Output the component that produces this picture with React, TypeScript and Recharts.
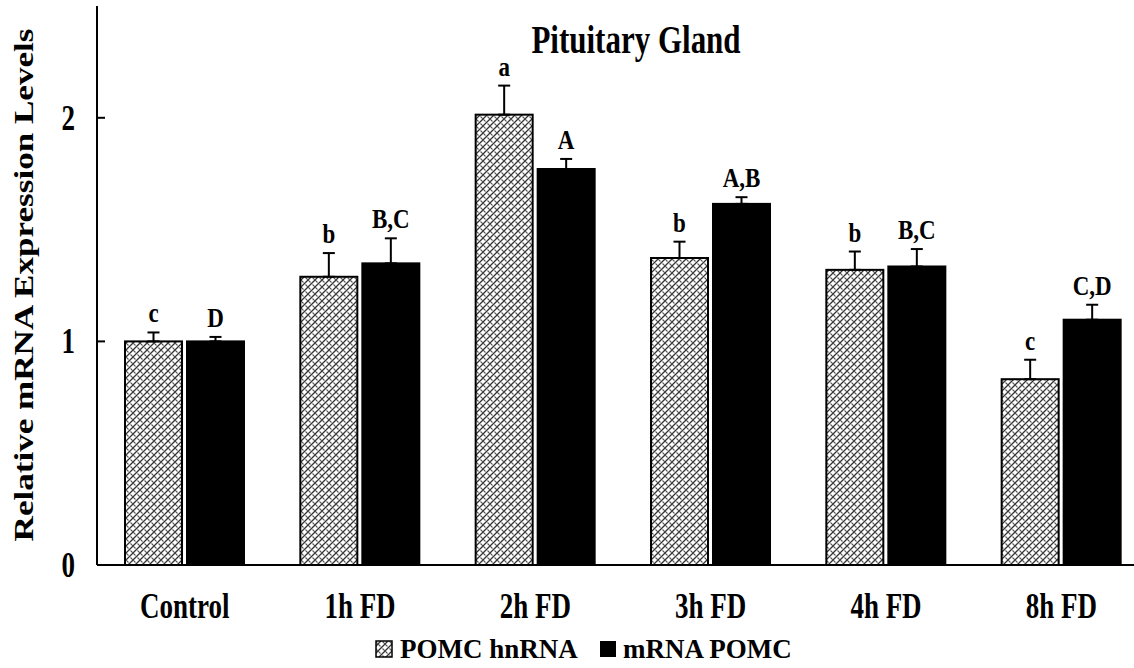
import React from 'react';
import { BarChart, Bar, XAxis, YAxis, ErrorBar } from 'recharts';

const groups = ['Control', '1h FD', '2h FD', '3h FD', '4h FD', '8h FD'];
const hnRNA = [1.0, 1.289, 2.014, 1.373, 1.32, 0.831];
const hnRNAErr = [0.04, 0.106, 0.13, 0.073, 0.082, 0.087];
const hnRNALetters = ['c', 'b', 'a', 'b', 'b', 'c'];
const mRNA = [1.0, 1.349, 1.771, 1.615, 1.335, 1.097];
const mRNAErr = [0.02, 0.112, 0.045, 0.03, 0.078, 0.067];
const mRNALetters = ['D', 'B,C', 'A', 'A,B', 'B,C', 'C,D'];
const yTicks = [0, 1, 2];

const FONT = '"Liberation Serif", "Times New Roman", serif';

const data = groups.map((name, i) => ({
  name,
  hn: hnRNA[i],
  hnErr: [0, hnRNAErr[i]],
  hnErrVal: hnRNAErr[i],
  hnLetter: hnRNALetters[i],
  m: mRNA[i],
  mErr: [0, mRNAErr[i]],
  mErrVal: mRNAErr[i],
  mLetter: mRNALetters[i],
}));

// bar + significance letter above its error bar
function makeShape(valKey: string, errKey: string, letterKey: string, fill: string) {
  return (props: any) => {
    const { x, y, width, height, payload } = props;
    const v = payload[valKey];
    const pxPerUnit = v > 0 ? height / v : 0;
    const topY = y - payload[errKey] * pxPerUnit;
    return (
      <g>
        <rect x={x} y={y} width={width} height={height} fill={fill} stroke="#000" strokeWidth={2} />
        <text
          transform={`translate(${x + width / 2},${topY - 10}) scale(1,1.2)`}
          textAnchor="middle"
          fontFamily={FONT}
          fontWeight="bold"
          fontSize={23}
          fill="#000"
        >
          {payload[letterKey]}
        </text>
      </g>
    );
  };
}

const YTick = (props: any) => {
  const { x, y, payload } = props;
  return (
    <g>
      <line x1={x} x2={x + 8} y1={y} y2={y} stroke="#000" strokeWidth={2} />
      <text
        transform={`translate(${x - 22},${y + 12}) scale(1,1.3)`}
        textAnchor="end"
        fontFamily={FONT}
        fontWeight="bold"
        fontSize={27}
        fill="#000"
      >
        {payload.value}
      </text>
    </g>
  );
};

const XTick = (props: any) => {
  const { x, y, payload } = props;
  return (
    <text
      transform={`translate(${x},${y + 53}) scale(1,1.3)`}
      textAnchor="middle"
      fontFamily={FONT}
      fontWeight="bold"
      fontSize={27}
      fill="#000"
    >
      {payload.value}
    </text>
  );
};

export default function App() {
  return (
    <div style={{ position: 'absolute', left: 0, top: 0, width: 1134, height: 668, overflow: 'hidden', background: '#fff' }}>
      <svg width={0} height={0} style={{ position: 'absolute' }}>
        <defs>
          <pattern id="hatch" width="7" height="7" patternUnits="userSpaceOnUse">
            <rect width="7" height="7" fill="#fff" />
            <path d="M0,7 L7,0 M-2,2 L2,-2 M5,9 L9,5" stroke="#333" strokeWidth={1.3} />
            <path d="M0,0 L2.5,2.5 M4.5,4.5 L7,7" stroke="#555" strokeWidth={1.1} />
          </pattern>
        </defs>
      </svg>
      <BarChart
        width={1149}
        height={668}
        data={data}
        margin={{ top: 6, right: 0, bottom: 0, left: 0 }}
        barSize={57}
        barGap={5}
      >
        <XAxis
          dataKey="name"
          height={103}
          axisLine={{ stroke: '#000', strokeWidth: 2 }}
          tickLine={false}
          tickSize={0}
          tickMargin={0}
          tick={<XTick />}
          interval={0}
        />
        <YAxis
          width={97}
          domain={[0, 2.5]}
          ticks={yTicks}
          axisLine={{ stroke: '#000', strokeWidth: 2 }}
          tickLine={false}
          tickSize={0}
          tickMargin={0}
          tick={<YTick />}
        />
        <Bar dataKey="hn" isAnimationActive={false} shape={makeShape('hn', 'hnErrVal', 'hnLetter', 'url(#hatch)')}>
          <ErrorBar dataKey="hnErr" width={6} stroke="#000" strokeWidth={2} direction="y" />
        </Bar>
        <Bar dataKey="m" isAnimationActive={false} shape={makeShape('m', 'mErrVal', 'mLetter', '#000')}>
          <ErrorBar dataKey="mErr" width={6} stroke="#000" strokeWidth={2} direction="y" />
        </Bar>
      </BarChart>
      <svg width={1134} height={668} style={{ position: 'absolute', left: 0, top: 0, pointerEvents: 'none' }}>
        <text
          transform="translate(636,53) scale(1,1.3)"
          textAnchor="middle"
          fontFamily={FONT}
          fontWeight="bold"
          fontSize={31}
          fill="#000"
        >
          Pituitary Gland
        </text>
        <text
          transform="translate(33,285) rotate(-90) scale(1.3,1)"
          textAnchor="middle"
          fontFamily={FONT}
          fontWeight="bold"
          fontSize={27}
          fill="#000"
        >
          Relative mRNA Expression Levels
        </text>
        <rect x={376} y={641} width={16} height={16} fill="url(#hatch)" stroke="#000" strokeWidth={1.5} />
        <text x={400} y={658} fontFamily={FONT} fontWeight="bold" fontSize={27} fill="#000">
          POMC hnRNA
        </text>
        <rect x={600} y={641} width={16} height={16} fill="#000" />
        <text x={623} y={658} fontFamily={FONT} fontWeight="bold" fontSize={27} fill="#000">
          mRNA POMC
        </text>
      </svg>
    </div>
  );
}
